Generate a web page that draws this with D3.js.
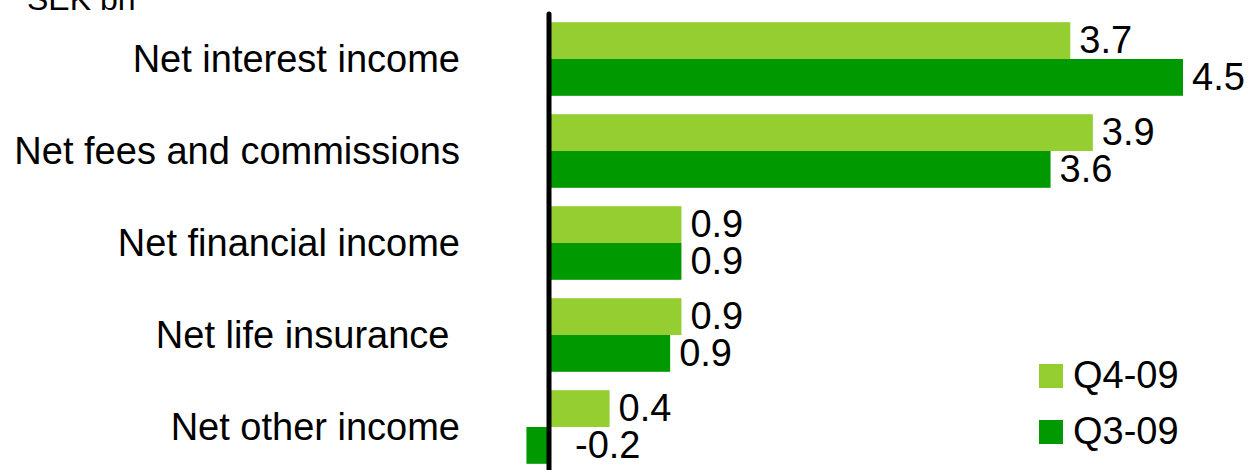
<!DOCTYPE html>
<html>
<head>
<meta charset="utf-8">
<script src="https://cdn.jsdelivr.net/npm/d3@7"></script>
<style>
  html, body { margin: 0; padding: 0; background: #fff; }
  svg { display: block; font-family: "Liberation Sans", Arial, sans-serif; }
</style>
</head>
<body>
<svg id="chart" width="1249" height="470"></svg>
<script>
const categories = ["Net interest income", "Net fees and commissions", "Net financial income", "Net life insurance ", "Net other income"];
const seriesNames = ["Q4-09", "Q3-09"];
const q4Values = [3.70, 3.86, 0.94, 0.94, 0.43];
const q3Values = [4.50, 3.56, 0.94, 0.86, -0.16];
const unitLabel = "SEK bn";
const colors = ["#94CE30", "#009900"];

const svg = d3.select("#chart");
const fmt = v => d3.format(".1f")(v).replace("\u2212", "-");

const y = d3.scaleBand().domain(categories).range([13, 473]).paddingInner(0.2).paddingOuter(0.1);
const ySub = d3.scaleBand().domain(seriesNames).range([0, y.bandwidth()]);
const x = d3.scaleLinear().domain([0, 4.5]).range([549, 1183]);

const series = [q4Values, q3Values];

// bars
series.forEach((vals, si) => {
  svg.append("g").selectAll("rect").data(vals).join("rect")
    .attr("x", d => Math.min(x(0), x(d)))
    .attr("width", d => Math.abs(x(d) - x(0)))
    .attr("y", (d, i) => y(categories[i]) + ySub(seriesNames[si]))
    .attr("height", ySub.bandwidth())
    .attr("fill", colors[si]);
  svg.append("g").selectAll("text").data(vals).join("text")
    .attr("x", d => d >= 0 ? x(d) + 9 : x(0) + 26)
    .attr("y", (d, i) => y(categories[i]) + ySub(seriesNames[si]) + ySub.bandwidth() / 2)
    .attr("dy", "0.33em")
    .attr("font-size", 38)
    .attr("fill", "#000")
    .text(d => fmt(d));
});

// axis line (vertical at zero)
svg.append("line")
  .attr("x1", x(0)).attr("x2", x(0))
  .attr("y1", 14).attr("y2", 480)
  .attr("stroke", "#000").attr("stroke-width", 5).attr("stroke-linecap", "round");

// category labels
svg.append("g").selectAll("text").data(categories).join("text")
  .attr("x", 460)
  .attr("y", d => y(d) + y.bandwidth() / 2)
  .attr("dy", "0.35em")
  .attr("text-anchor", "end")
  .attr("font-size", 38)
  .attr("fill", "#000")
  .style("white-space", "pre")
  .text(d => d);

// unit label
svg.append("text").attr("x", 27).attr("y", 10).attr("font-size", 32).attr("fill", "#000").text(unitLabel);

// legend
const leg = svg.append("g");
seriesNames.forEach((s, i) => {
  const yy = 364 + i * 56;
  leg.append("rect").attr("x", 1039).attr("y", yy).attr("width", 24).attr("height", 24).attr("fill", colors[i]);
  leg.append("text").attr("x", 1073).attr("y", yy + 24).attr("font-size", 38).attr("fill", "#000").text(s);
});
</script>
</body>
</html>
